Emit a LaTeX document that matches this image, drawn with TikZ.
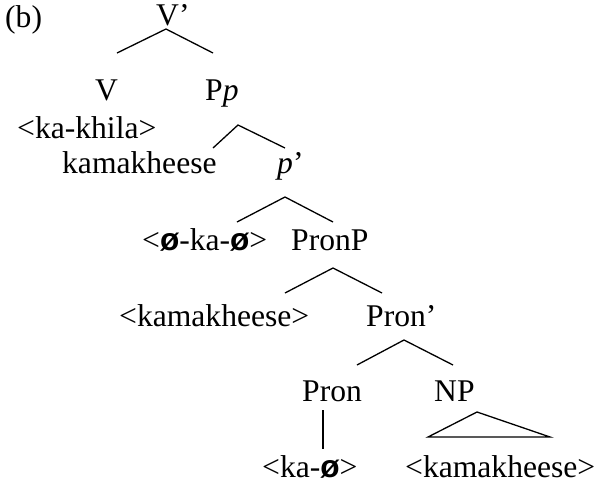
\documentclass[tikz,border=0pt]{standalone}
\usepackage{fontspec}
\setmainfont{Liberation Serif}
\newfontfamily\slashfont{Liberation Sans}
\newcommand{\zeroaff}{{\slashfont\bfseries ø}}
\usetikzlibrary{positioning}

\begin{document}
\begin{tikzpicture}[
    x=1pt, y=-1pt,
    lbl/.style={anchor=base west, inner sep=0pt, font=\fontsize{31.6}{38}\selectfont},
    branch/.style={line width=1.3pt, line join=miter}
]
\useasboundingbox (0,0) rectangle (598,488);

% tag
\node[lbl] (tag) at (5,27) {(b)};

% V' and its daughters
\node[lbl] (vbar) at (156,25) {V’};
\node[lbl] (v) at (95,100) {V};
\node[lbl] (pp) at (205,100) {P\textit{p}};
\node[lbl] (vform) at (17,138) {<ka-khila>};

% pP layer
\node[lbl] (spec) at (62,173) {kamakheese};
\node[lbl] (pbar) at (277,173) {\textit{p}’};
\node[lbl] (pform) at (142,250) {<\zeroaff-ka-\zeroaff>};
\node[lbl] (pronp) at (291,250) {PronP};

% PronP layer
\node[lbl] (pronspec) at (119,326) {<kamakheese>};
\node[lbl] (pronbar) at (366,326) {Pron’};
\node[lbl] (pron) at (302,401) {Pron};
\node[lbl] (np) at (434,401) {NP};
\node[lbl] (pronform) at (262,477) {<ka-\zeroaff>};
\node[lbl] (npform) at (405,477) {<kamakheese>};

% branch points
\coordinate (vbar-top) at (166,29);
\coordinate (vbar-l) at (117,53);
\coordinate (vbar-r) at (213,53);
\coordinate (pp-top) at (238,125);
\coordinate (pp-l) at (213,148);
\coordinate (pp-r) at (285,148);
\coordinate (pbar-top) at (285,197);
\coordinate (pbar-l) at (237,222);
\coordinate (pbar-r) at (333,222);
\coordinate (pronp-top) at (333,268);
\coordinate (pronp-l) at (285,293);
\coordinate (pronp-r) at (382,293);
\coordinate (pronbar-top) at (404,340);
\coordinate (pronbar-l) at (357,365);
\coordinate (pronbar-r) at (453,365);
\coordinate (pron-top) at (323,410);
\coordinate (pron-bot) at (323,449);
\coordinate (np-top) at (477,412);
\coordinate (np-l) at (428,437);
\coordinate (np-r) at (550,437);

% branches
\draw[branch] (vbar-l) -- (vbar-top) -- (vbar-r);
\draw[branch] (pp-l) -- (pp-top) -- (pp-r);
\draw[branch] (pbar-l) -- (pbar-top) -- (pbar-r);
\draw[branch] (pronp-l) -- (pronp-top) -- (pronp-r);
\draw[branch] (pronbar-l) -- (pronbar-top) -- (pronbar-r);
\draw[branch] (pron-top) -- (pron-bot);
\draw[branch] (np-top) -- (np-l) -- (np-r) -- cycle;

\end{tikzpicture}
\end{document}
